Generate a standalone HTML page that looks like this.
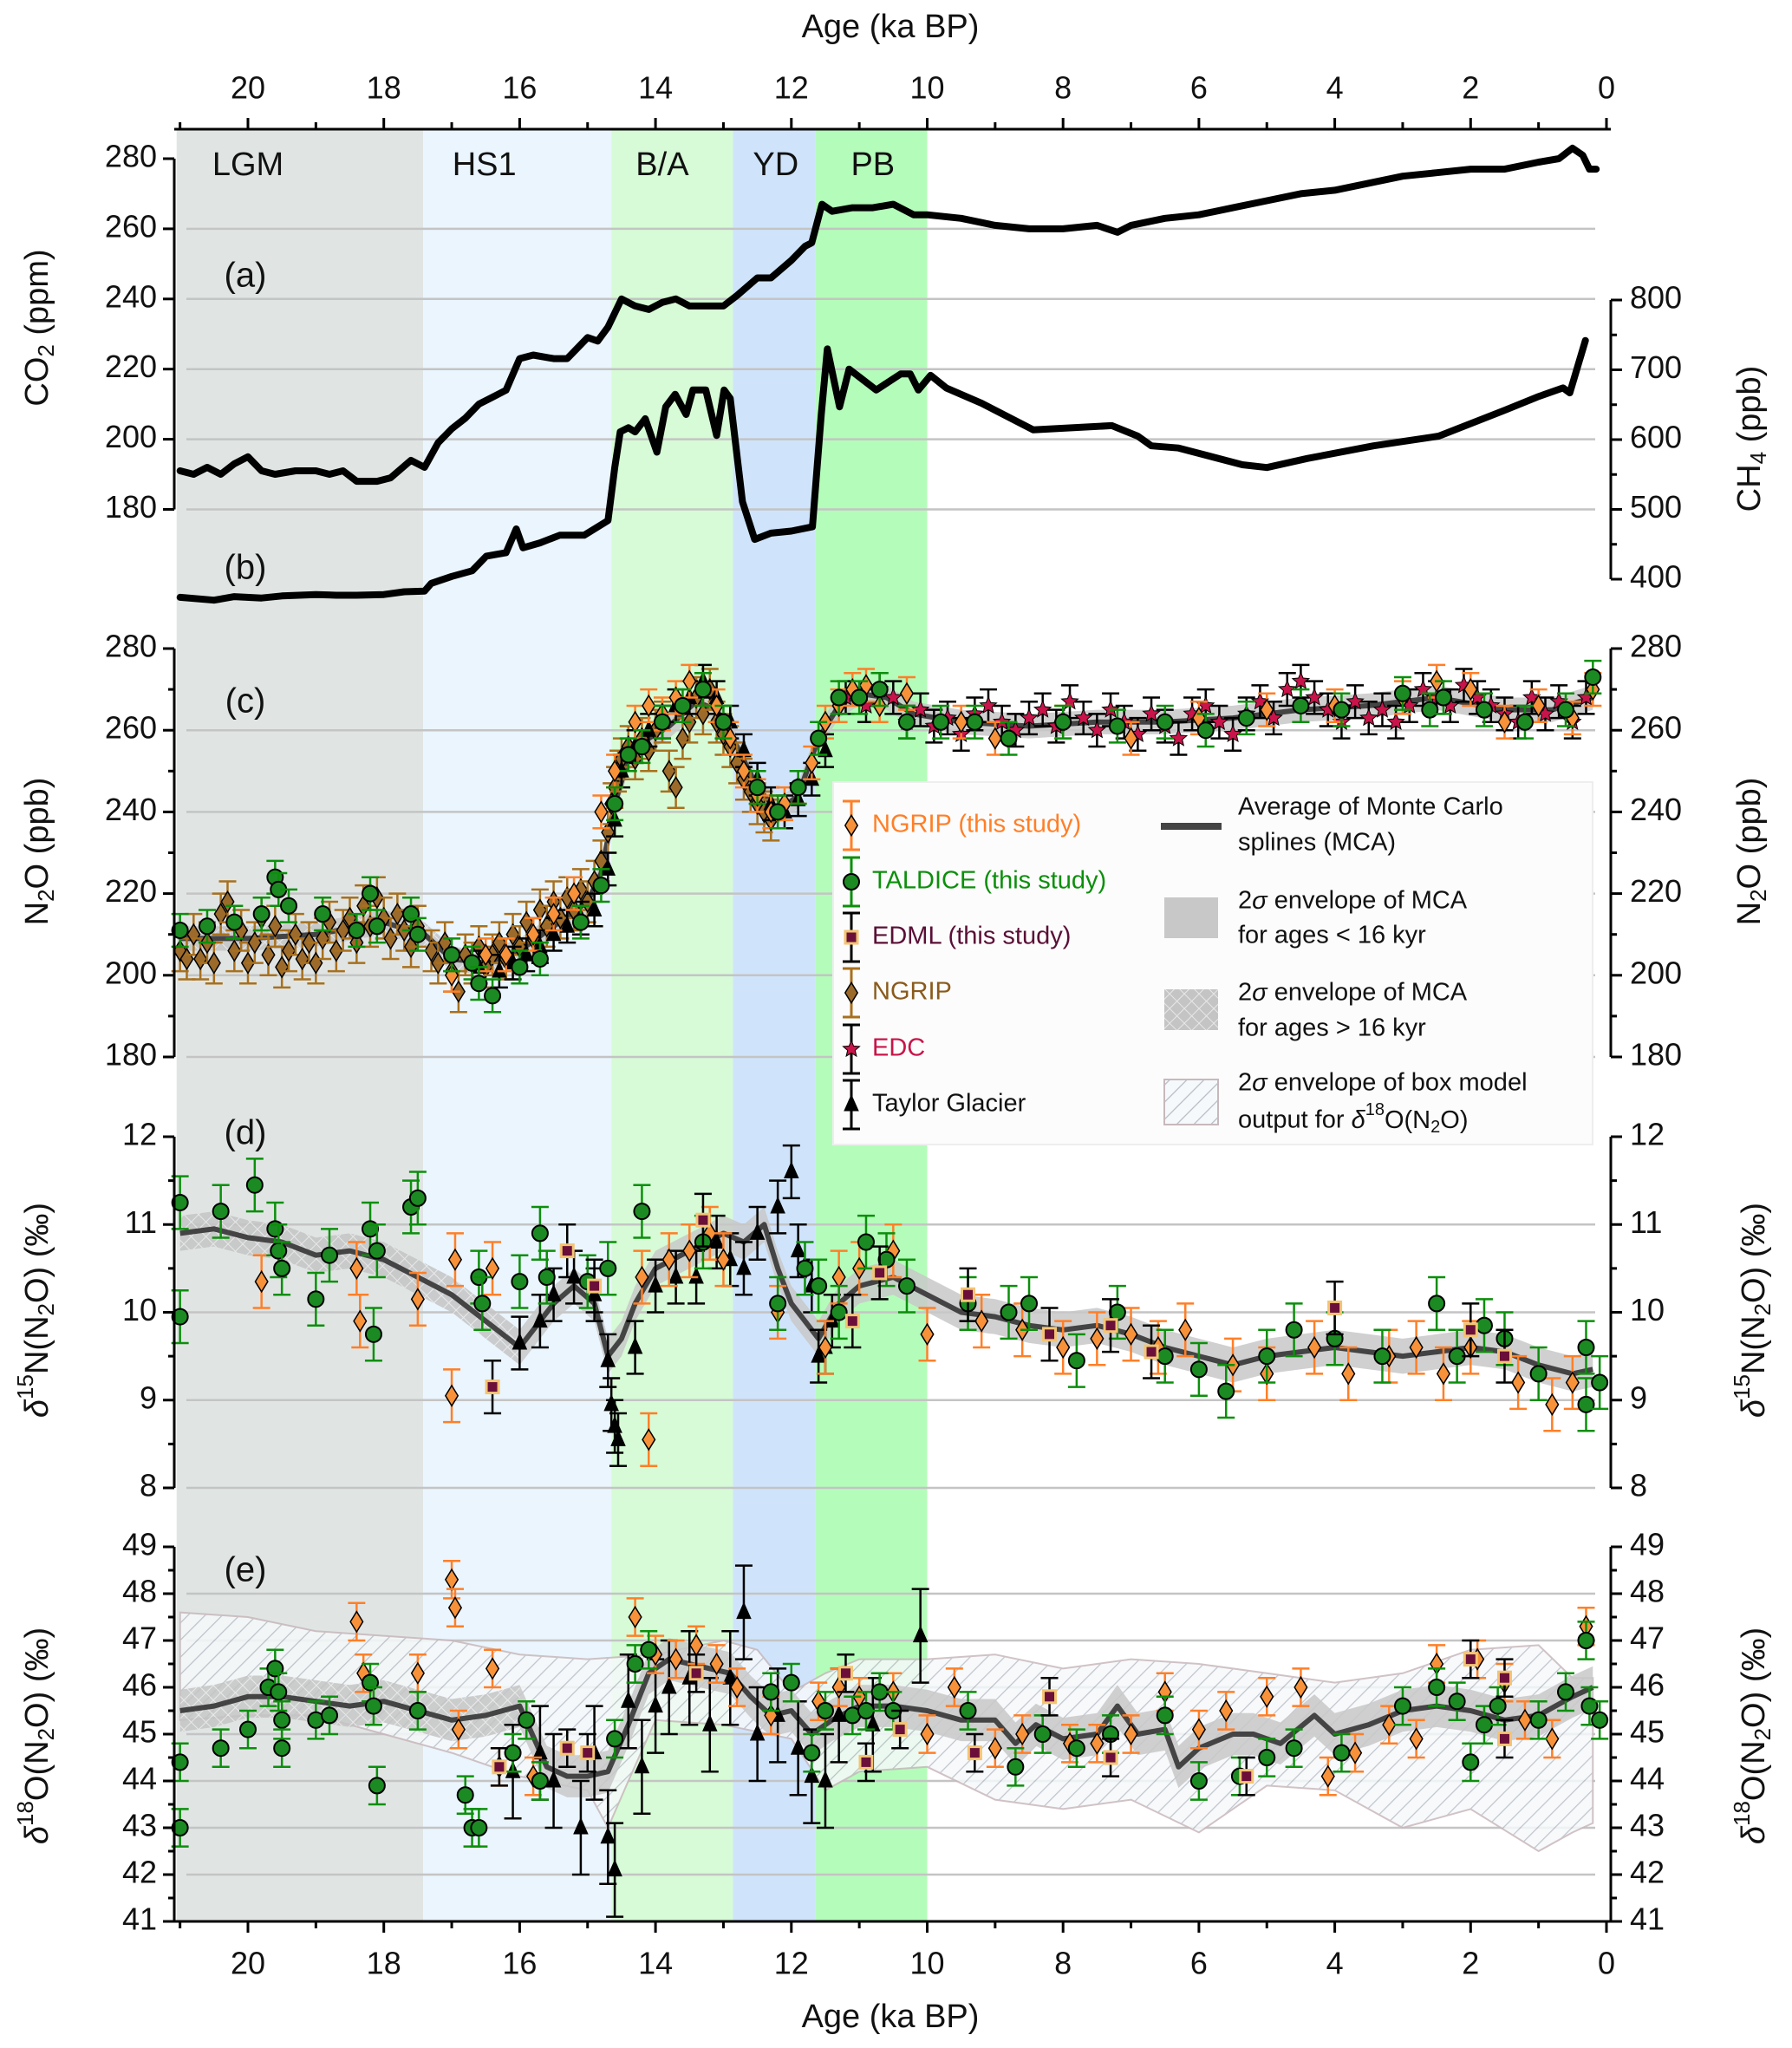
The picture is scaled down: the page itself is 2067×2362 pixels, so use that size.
<!DOCTYPE html>
<html><head><meta charset="utf-8"><style>
html,body{margin:0;padding:0;background:#fff}
svg{display:block;font-family:"Liberation Sans",sans-serif}
</style></head><body>
<svg id="chart" xmlns="http://www.w3.org/2000/svg" width="2067" height="2362" viewBox="0 0 2067 2362">
<defs>
<pattern id="hatch" patternUnits="userSpaceOnUse" width="14" height="14" patternTransform="rotate(45)">
<rect width="14" height="14" fill="#f6f9fb"/><line x1="0" y1="0" x2="0" y2="14" stroke="#b7bcc4" stroke-width="2.5"/></pattern>
<pattern id="check" patternUnits="userSpaceOnUse" width="12" height="12" patternTransform="rotate(45)">
<rect width="12" height="12" fill="#c4c4c4"/><line x1="0" y1="0" x2="0" y2="12" stroke="#e8e8e8" stroke-width="2"/><line x1="0" y1="0" x2="12" y2="0" stroke="#e8e8e8" stroke-width="2"/></pattern>
</defs>
<g id="bands"></g><g id="grid"></g><g id="envs"></g><g id="lines"></g><g id="marks"></g><g id="axes"></g><g id="legend"></g>
</svg>
<script>
// ---------- data ----------
const bandNames=["LGM","HS1","B/A","YD","PB"];
const bandStart=[21.05,17.42,14.65,12.86,11.65];
const bandEnd=[17.42,14.65,12.86,11.65,10.0];
const bandLabelAge=[20.0,16.52,13.9,12.23,10.8];
const bandColors=["#e0e5e4","#eaf5fd","#d6fbd6","#cfe4fb","#b4fcba"];

const co2Age=[21.0,20.8,20.6,20.4,20.2,20.0,19.8,19.6,19.3,19.0,18.8,18.6,18.4,18.1,17.9,17.6,17.4,17.2,17.0,16.8,16.6,16.4,16.2,16.0,15.8,15.5,15.3,15.0,14.85,14.7,14.5,14.3,14.1,13.9,13.7,13.5,13.2,13.0,12.8,12.5,12.3,12.0,11.8,11.7,11.55,11.4,11.1,10.8,10.5,10.2,10.0,9.5,9.0,8.5,8.0,7.5,7.2,7.0,6.5,6.0,5.5,5.0,4.5,4.0,3.5,3.0,2.5,2.0,1.5,1.0,0.7,0.5,0.35,0.25,0.15];
const co2Val=[191,190,192,190,193,195,191,190,191,191,190,191,188,188,189,194,192,199,203,206,210,212,214,223,224,223,223,229,228,232,240,238,237,239,240,238,238,238,241,246,246,251,255,256,267,265,266,266,267,264,264,263,261,260,260,261,259,261,263,264,266,268,270,271,273,275,276,277,277,279,280,283,281,277,277];

const ch4Age=[21.0,20.5,20.2,19.8,19.5,19.0,18.7,18.4,18.0,17.7,17.4,17.3,17.0,16.7,16.49,16.2,16.05,15.95,15.7,15.41,15.05,14.7,14.6,14.52,14.4,14.3,14.15,13.98,13.85,13.71,13.55,13.45,13.26,13.1,12.99,12.9,12.72,12.54,12.3,12.0,11.69,11.56,11.47,11.29,11.15,10.75,10.39,10.25,10.13,9.95,9.72,9.2,8.44,7.28,6.9,6.7,6.3,5.36,5.0,4.4,3.43,2.47,1.5,1.02,0.64,0.54,0.31];
const ch4Val=[374,370,375,373,376,378,377,377,378,382,383,394,404,412,433,438,472,445,452,463,463,484,560,611,617,611,630,582,647,665,636,671,671,606,671,659,511,457,466,469,475,636,730,647,701,671,694,694,671,692,674,652,614,620,605,591,588,564,560,573,591,605,642,661,674,667,742];

const ngripOldN2O=[[21.0,206],[20.9,204],[20.8,210],[20.7,204],[20.6,208],[20.5,203],[20.4,215],[20.3,218],[20.2,206],[20.1,211],[20.0,203],[19.9,208],[19.8,214],[19.7,205],[19.6,212],[19.5,202],[19.4,206],[19.3,210],[19.2,204],[19.1,208],[19.0,203],[18.9,209],[18.8,213],[18.7,206],[18.6,211],[18.5,214],[18.4,208],[18.3,217],[18.2,212],[18.1,219],[18.0,214],[17.9,209],[17.8,215],[17.7,211],[17.6,207],[17.5,212],[17.3,206],[17.2,203],[17.1,208],[17.0,201],[16.9,196],[16.8,205],[16.7,203],[16.6,207],[16.5,202],[16.4,205],[16.3,208],[16.2,204],[16.1,210],[16.0,207],[15.9,213],[15.8,209],[15.7,216],[15.6,212],[15.5,218],[15.4,214],[15.3,219],[15.2,216],[15.1,221],[15.0,218],[14.9,223],[14.8,228],[14.7,235],[14.65,242],[14.6,246],[14.55,250],[14.5,253],[14.4,256],[14.3,253],[14.2,258],[14.1,255],[14.0,260],[13.9,262],[13.8,250],[13.7,246],[13.6,258],[13.5,262],[13.4,268],[13.3,264],[13.2,270],[13.1,262],[13.0,259],[12.9,256],[12.8,252],[12.7,248],[12.6,245],[12.5,242],[12.4,240],[12.3,238]];
const ngripNewN2O=[[17.0,200],[16.5,205],[16.2,205],[15.8,210],[15.5,215],[15.2,220],[14.8,240],[14.6,250],[14.3,262],[14.1,266],[13.9,264],[13.7,268],[13.5,272],[13.3,270],[13.1,266],[12.9,258],[12.7,250],[12.5,244],[12.3,240],[12.1,242],[11.9,246],[11.7,252],[11.5,262],[11.3,266],[11.1,270],[10.9,271],[10.7,266],[10.3,269],[9.5,262],[9.0,258],[8.0,262],[7.0,258],[6.0,263],[5.0,265],[4.0,266],[3.0,268],[2.5,272],[2.0,270],[1.5,262],[1.0,266],[0.5,263],[0.2,270]];
const edcN2O=[[11.2,268],[10.9,266],[10.7,270],[10.5,268],[10.3,262],[10.1,265],[9.9,261],[9.7,263],[9.5,259],[9.3,264],[9.1,266],[8.9,262],[8.7,260],[8.5,263],[8.3,265],[8.1,261],[7.9,267],[7.7,263],[7.5,260],[7.3,265],[7.1,262],[6.9,259],[6.7,264],[6.5,261],[6.3,258],[6.1,264],[5.9,266],[5.7,262],[5.5,259],[5.3,264],[5.1,267],[4.9,263],[4.7,270],[4.5,272],[4.3,268],[4.1,265],[3.9,262],[3.7,267],[3.5,263],[3.3,265],[3.1,262],[2.9,266],[2.7,270],[2.5,268],[2.3,266],[2.1,271],[1.9,268],[1.7,266],[1.5,264],[1.3,262],[1.1,268],[0.9,264],[0.7,267],[0.5,262],[0.3,268]];
const taldiceN2O=[[21.0,211],[20.6,212],[20.2,213],[19.8,215],[19.6,224],[19.55,221],[19.4,217],[18.9,215],[18.4,211],[18.2,220],[18.1,212],[17.6,215],[17.5,210],[17.0,205],[16.7,203],[16.6,198],[16.4,195],[16.0,202],[15.7,204],[15.1,213],[14.8,222],[14.6,242],[14.4,254],[14.2,256],[13.9,262],[13.6,266],[13.3,270],[13.0,262],[12.5,246],[12.2,240],[11.9,246],[11.6,258],[11.3,268],[11.0,268],[10.7,270],[10.3,262],[9.8,262],[9.3,262],[8.8,258],[8.0,262],[7.2,261],[6.5,262],[5.9,260],[5.3,263],[4.5,266],[3.9,265],[3.0,269],[2.6,265],[2.4,268],[1.8,265],[1.2,262],[0.6,265],[0.2,273]];
const taylorN2O=[[16.6,202],[16.3,201],[16.1,203],[15.9,205],[15.7,207],[15.5,210],[15.3,212],[15.1,214],[14.9,216],[14.7,226],[14.6,238],[14.5,250],[14.3,256],[14.1,260],[13.9,262],[13.7,266],[13.5,268],[13.3,272],[13.1,268],[12.9,262],[12.7,255],[12.5,248],[12.3,242],[12.1,240],[11.9,243],[11.7,248],[11.5,255]];
const mcaN2O=[[21.0,209],[20.0,209],[19.0,210],[18.0,213],[17.4,210],[17.0,204],[16.5,203],[16.0,206],[15.5,212],[15.0,218],[14.8,225],[14.6,242],[14.4,253],[14.1,258],[13.8,261],[13.4,267],[13.1,265],[12.8,256],[12.5,246],[12.2,240],[11.9,244],[11.6,258],[11.3,266],[11.0,269],[10.6,268],[10.2,264],[9.5,262],[8.5,261],[7.5,262],[6.5,262],[5.5,263],[4.5,265],[3.5,266],[2.5,268],[1.5,265],[0.8,265],[0.2,268]];

const taldiceD15=[[21.0,11.25],[21.0,9.95],[20.4,11.15],[19.9,11.45],[19.6,10.95],[19.55,10.7],[19.5,10.5],[19.0,10.15],[18.8,10.65],[18.2,10.95],[18.15,9.75],[18.1,10.7],[17.6,11.2],[17.5,11.3],[16.6,10.4],[16.55,10.1],[16.0,10.35],[15.7,10.9],[15.6,10.4],[15.0,10.35],[14.7,10.5],[14.2,11.15],[13.3,10.8],[12.2,10.1],[11.8,10.5],[11.6,10.3],[11.3,10.0],[10.9,10.8],[10.6,10.6],[10.3,10.3],[9.4,10.1],[8.8,10.0],[8.5,10.1],[7.8,9.45],[7.2,10.0],[6.5,9.5],[6.0,9.35],[5.6,9.1],[5.0,9.5],[4.6,9.8],[4.0,9.7],[3.3,9.5],[2.5,10.1],[2.2,9.5],[1.8,9.85],[1.5,9.7],[1.0,9.3],[0.3,9.6],[0.3,8.95],[0.1,9.2]];
const ngripD15=[[19.8,10.35],[18.4,10.5],[18.35,9.9],[17.5,10.15],[17.0,9.05],[16.95,10.6],[16.4,10.5],[14.2,10.4],[14.1,8.55],[13.8,10.6],[13.5,10.7],[13.2,10.9],[13.0,10.6],[12.2,10.0],[11.5,9.6],[11.3,10.4],[11.0,10.5],[10.5,10.7],[10.0,9.75],[9.2,9.9],[8.6,9.8],[8.0,9.6],[7.5,9.7],[7.0,9.75],[6.6,9.6],[6.2,9.8],[5.5,9.4],[5.0,9.3],[4.3,9.6],[3.8,9.3],[3.2,9.5],[2.8,9.6],[2.4,9.3],[2.0,9.6],[1.3,9.2],[0.8,8.95],[0.5,9.2]];
const edmlD15=[[16.4,9.15],[15.3,10.7],[14.9,10.3],[13.3,11.05],[11.1,9.9],[10.7,10.45],[9.4,10.2],[8.2,9.75],[7.3,9.85],[6.7,9.55],[4.0,10.05],[2.0,9.8],[1.5,9.5]];
const taylorD15=[[16.0,9.65],[15.7,9.9],[15.5,10.2],[15.2,10.4],[14.9,10.2],[14.7,9.45],[14.65,8.95],[14.6,8.7],[14.55,8.55],[14.3,9.6],[14.0,10.3],[13.7,10.4],[13.4,10.4],[13.1,10.8],[12.9,10.6],[12.7,10.5],[12.5,10.9],[12.2,11.2],[12.0,11.6],[11.9,10.7],[11.7,10.3],[11.6,9.5],[11.5,9.6],[11.4,9.9]];
const mcaD15=[[21,10.9],[20.5,10.95],[20,10.85],[19.5,10.8],[19,10.65],[18.5,10.7],[18.0,10.6],[17.5,10.4],[17.0,10.2],[16.5,9.9],[16.0,9.6],[15.8,9.8],[15.5,10.1],[15.2,10.3],[14.9,10.1],[14.7,9.5],[14.5,9.7],[14.3,10.1],[14.0,10.5],[13.5,10.7],[13.0,10.9],[12.7,10.8],[12.4,11.0],[12.2,10.5],[12.0,10.1],[11.8,9.9],[11.6,9.7],[11.3,10.1],[11.0,10.3],[10.5,10.4],[10.0,10.2],[9.5,10.0],[9.0,9.95],[8.5,9.85],[8.0,9.8],[7.5,9.85],[7.0,9.75],[6.5,9.6],[6.0,9.5],[5.5,9.4],[5.0,9.5],[4.5,9.55],[4.0,9.6],[3.5,9.55],[3.0,9.5],[2.5,9.55],[2.0,9.6],[1.5,9.55],[1.0,9.4],[0.5,9.3],[0.2,9.35]];

const taldiceD18=[[21.0,44.4],[21.0,43.0],[20.4,44.7],[20.0,45.1],[19.7,46.0],[19.6,46.4],[19.55,45.9],[19.5,45.3],[19.5,44.7],[19.0,45.3],[18.8,45.4],[18.2,46.1],[18.15,45.6],[18.1,43.9],[17.5,45.5],[16.8,43.7],[16.7,43.0],[16.6,43.0],[16.1,44.6],[15.9,45.3],[15.7,44.0],[14.6,44.9],[14.3,46.5],[14.1,46.8],[12.3,45.9],[12.0,46.1],[11.7,44.6],[11.5,45.5],[11.1,45.4],[10.9,45.5],[10.7,45.9],[10.5,45.5],[9.4,45.5],[8.7,44.3],[8.3,45.0],[7.8,44.7],[7.3,45.0],[6.5,45.4],[6.0,44.0],[5.4,44.1],[5.0,44.5],[4.6,44.7],[3.9,44.6],[3.0,45.6],[2.5,46.0],[2.2,45.7],[2.0,44.4],[1.8,45.2],[1.6,45.6],[1.0,45.3],[0.6,45.9],[0.3,47.0],[0.25,45.6],[0.1,45.3]];
const ngripD18=[[18.4,47.4],[18.3,46.3],[17.5,46.3],[17.0,48.3],[16.95,47.7],[16.9,45.1],[16.4,46.4],[16.3,44.3],[15.8,44.1],[14.3,47.5],[14.0,46.7],[13.7,46.6],[13.4,46.9],[13.1,46.5],[12.8,46.0],[12.3,45.4],[11.6,45.7],[11.3,46.0],[11.0,45.8],[10.5,45.9],[10.0,45.0],[9.6,46.0],[9.0,44.7],[8.6,45.0],[7.9,44.8],[7.5,44.8],[7.0,45.0],[6.5,45.9],[6.0,45.1],[5.6,45.5],[5.0,45.8],[4.5,46.0],[4.1,44.1],[3.7,44.6],[3.2,45.2],[2.8,44.9],[2.5,46.5],[1.9,46.6],[1.5,46.1],[1.2,45.3],[0.8,44.9],[0.3,47.3]];
const edmlD18=[[16.3,44.3],[15.3,44.7],[15.0,44.6],[13.4,46.3],[11.2,46.3],[10.9,44.4],[10.4,45.1],[9.3,44.6],[8.2,45.8],[7.3,44.5],[5.3,44.1],[2.0,46.6],[1.5,46.2],[1.5,44.9]];
const taylorD18=[[16.1,44.2],[15.7,44.6],[15.5,44.0],[15.1,43.0],[14.9,44.6],[14.7,42.8],[14.6,42.1],[14.4,45.7],[14.2,44.3],[14.0,45.6],[13.8,46.0],[13.5,46.2],[13.2,45.2],[12.9,46.2],[12.7,47.6],[12.5,45.0],[12.2,45.4],[11.9,44.7],[11.7,44.1],[11.5,44.0],[11.3,45.4],[10.8,45.2],[10.1,47.1]];
const mcaD18=[[21,45.5],[20.5,45.6],[20,45.8],[19.5,45.8],[19,45.7],[18.5,45.6],[18,45.7],[17.5,45.5],[17,45.3],[16.5,45.4],[16.0,45.6],[15.6,44.3],[15.3,44.1],[15.0,44.1],[14.7,44.2],[14.4,45.2],[14.1,46.3],[13.8,46.6],[13.5,46.5],[13.2,46.4],[12.9,46.3],[12.6,45.8],[12.3,45.4],[12.0,45.5],[11.7,45.0],[11.4,45.3],[11.0,45.6],[10.5,45.6],[10.0,45.5],[9.5,45.3],[9.0,45.3],[8.7,44.8],[8.4,45.2],[8.0,44.9],[7.5,45.0],[7.2,45.6],[6.9,45.0],[6.5,45.1],[6.3,44.3],[6.0,44.7],[5.5,45.0],[5.2,45.0],[4.8,44.8],[4.3,45.4],[4.0,45.0],[3.5,45.2],[3.0,45.5],[2.5,45.6],[2.0,45.5],[1.5,45.3],[1.0,45.4],[0.5,45.8],[0.2,46.0]];
const boxUpper=[[21,47.6],[20,47.5],[19,47.2],[18,47.1],[17,47.0],[16,46.7],[15,46.6],[14,46.7],[13,47.0],[12.5,46.8],[12,45.9],[11.5,46.3],[11,46.6],[10,46.6],[9,46.7],[8,46.4],[7,46.6],[6,46.5],[5,46.3],[4,46.1],[3,46.3],[2,46.8],[1,46.9],[0.5,46.2],[0.2,46.2]];
const boxLower=[[21,45.3],[20,45.4],[19,45.4],[18,45.0],[17,44.6],[16,44.1],[15,43.8],[14.7,43.0],[14.4,44.0],[14,45.3],[13,45.2],[12,44.9],[11.5,43.8],[11,44.2],[10,44.3],[9,43.6],[8,43.4],[7,43.6],[6,42.9],[5,43.9],[4,43.8],[3,43.0],[2,43.4],[1,42.5],[0.5,42.9],[0.2,43.1]];

const ageTicks=[20,18,16,14,12,10,8,6,4,2,0];
const co2Ticks=[280,260,240,220,200,180];
const ch4Ticks=[800,700,600,500,400];
const n2oTicks=[280,260,240,220,200,180];
const d15Ticks=[12,11,10,9,8];
const d18Ticks=[49,48,47,46,45,44,43,42,41];

// ---------- scales ----------
const X=a=>1853-a*78.35;
const Yco2=v=>183+(280-v)*4.045;
const Ych4=v=>346+(800-v)*0.805;
const Yn2o=v=>748+(280-v)*4.71;
const Yd15=v=>1311+(12-v)*101.25;
const Yd18=v=>1784+(49-v)*54;
const L=201,R=1858,PL=205,TOP=149,BOT=2216;

const NS="http://www.w3.org/2000/svg";
function mk(parent,tag,attrs,text){const e=document.createElementNS(NS,tag);for(const k in attrs)e.setAttribute(k,attrs[k]);if(text!==undefined)e.textContent=text;document.getElementById(parent).appendChild(e);return e;}

bandNames.forEach((n,i)=>{
 const r=mk('bands','rect',{x:X(bandStart[i]),y:TOP,width:X(bandEnd[i])-X(bandStart[i]),height:BOT-TOP,fill:bandColors[i]});
 
 
 const t=mk('bands','text',{x:X(bandLabelAge[i]),y:202,'font-size':38,'text-anchor':'middle',fill:'#111'},n);
 
 
});

function grid(ticks,sc,skipFirst){ticks.forEach((t,i)=>{if(skipFirst&&i===0)return;const g=mk('grid','line',{x1:215,x2:1840,y1:sc(t),y2:sc(t),stroke:'#c4c4c4','stroke-width':2.5});});}
grid(co2Ticks,Yco2,true);grid(n2oTicks,Yn2o,true);grid(d15Ticks,Yd15,true);grid(d18Ticks,Yd18,true);

function pathOf(pts,sy){return pts.map((p,i)=>(i?'L':'M')+X(p[0]).toFixed(1)+' '+sy(p[1]).toFixed(1)).join(' ');}
function band(pts,sy,w){const up=pts.map(p=>[p[0],p[1]+w]),lo=pts.map(p=>[p[0],p[1]-w]).reverse();return pathOf(up,sy)+' '+lo.map(p=>'L'+X(p[0]).toFixed(1)+' '+sy(p[1]).toFixed(1)).join(' ')+' Z';}

{const d=pathOf(boxUpper,Yd18)+' '+boxLower.slice().reverse().map(p=>'L'+X(p[0]).toFixed(1)+' '+Yd18(p[1]).toFixed(1)).join(' ')+' Z';
 const e=mk('envs','path',{d:d,fill:'url(#hatch)',stroke:'#c8b8bc','stroke-width':2,opacity:0.85});
 
 }
[[mcaN2O,Yn2o,3],[mcaD15,Yd15,0.2],[mcaD18,Yd18,0.45]].forEach(([pts,sy,w],k)=>{
 const young=pts.filter(p=>p[0]<=16.05),old=pts.filter(p=>p[0]>=15.95);
 const e1=mk('envs','path',{d:band(young,sy,w),fill:'#c8c8c8',opacity:0.85});
 
 
 const e2=mk('envs','path',{d:band(old,sy,w),fill:'url(#check)',opacity:0.85});
 
 
});

{const co2Pts=co2Age.map((a,i)=>[a,co2Val[i]]);
 const l=mk('lines','path',{d:pathOf(co2Pts,Yco2),fill:'none',stroke:'#000','stroke-width':8,'stroke-linejoin':'round','stroke-linecap':'round'});
 
 
 const ch4Pts=ch4Age.map((a,i)=>[a,ch4Val[i]]);
 const m=mk('lines','path',{d:pathOf(ch4Pts,Ych4),fill:'none',stroke:'#000','stroke-width':8,'stroke-linejoin':'round','stroke-linecap':'round'});
 
 }
[[mcaN2O,Yn2o],[mcaD15,Yd15],[mcaD18,Yd18]].forEach(([pts,sy])=>{
 const l=mk('lines','path',{d:pathOf(pts,sy),fill:'none',stroke:'#444','stroke-width':6,'stroke-linejoin':'round'});
 
 
});

function marker(g,type,x,y){
 const s=9;
 if(type==='diamond') return mk(g,'path',{d:`M${x} ${y-s*1.3}L${x+s*0.8} ${y}L${x} ${y+s*1.3}L${x-s*0.8} ${y}Z`,stroke:'#000','stroke-width':1.5});
 if(type==='circle') return mk(g,'circle',{cx:x,cy:y,r:s,stroke:'#000','stroke-width':2});
 if(type==='square') return mk(g,'rect',{x:x-7,y:y-7,width:14,height:14,stroke:'#f3c473','stroke-width':3});
 if(type==='star'){let d='';for(let i=0;i<10;i++){const r=i%2?4.5:10,a=Math.PI/5*i-Math.PI/2;d+=(i?'L':'M')+(x+r*Math.cos(a)).toFixed(1)+' '+(y+r*Math.sin(a)).toFixed(1);}return mk(g,'path',{d:d+'Z',stroke:'#000','stroke-width':1});}
 return mk(g,'path',{d:`M${x} ${y-11}L${x+8} ${y+7}L${x-8} ${y+7}Z`,stroke:'#000','stroke-width':1});
}
function series(name,data,sy,err,type,fill,ecol){
 data.forEach(p=>{
  const x=X(p[0]),y=sy(p[1]),y1=sy(p[1]+err),y2=sy(p[1]-err);
  const eb=mk('marks','path',{d:`M${x} ${y1}V${y2}M${x-10} ${y1}H${x+10}M${x-10} ${y2}H${x+10}`,stroke:ecol,'stroke-width':2.5,fill:'none'});
  
  
  const m=marker('marks',type,x,y);m.setAttribute('fill',fill);
  
  
 });
}
const OR='#f7923a',ORE='#ff7f27',GR='#1c8a22',GRE='#0c8f0c',BR='#9c6a2a',BRE='#a8701e',ED='#6b0f3a',RD='#c8144a';
series('ngrip-old-n2o',ngripOldN2O,Yn2o,5,'diamond',BR,BRE);
series('taylor-n2o',taylorN2O,Yn2o,4,'triangle','#000','#000');
series('edc-n2o',edcN2O,Yn2o,4,'star',RD,'#000');
series('ngrip-new-n2o',ngripNewN2O,Yn2o,4,'diamond',OR,ORE);
series('taldice-n2o',taldiceN2O,Yn2o,4,'circle',GR,GRE);
series('taylor-d15n',taylorD15,Yd15,0.3,'triangle','#000','#000');
series('ngrip-d15n',ngripD15,Yd15,0.3,'diamond',OR,ORE);
series('taldice-d15n',taldiceD15,Yd15,0.3,'circle',GR,GRE);
series('edml-d15n',edmlD15,Yd15,0.3,'square',ED,'#000');
series('taylor-d18o',taylorD18,Yd18,1.0,'triangle','#000','#000');
series('ngrip-d18o',ngripD18,Yd18,0.4,'diamond',OR,ORE);
series('taldice-d18o',taldiceD18,Yd18,0.4,'circle',GR,GRE);
series('edml-d18o',edmlD18,Yd18,0.4,'square',ED,'#000');

function line(g,x1,y1,x2,y2,name){const l=mk(g,'line',{x1,y1,x2,y2,stroke:'#000','stroke-width':3});return l;}
function txt(x,y,s,anchor,size,name,extra){const t=mk('axes','text',Object.assign({x,y,'font-size':size,'text-anchor':anchor,'dominant-baseline':'middle',fill:'#111'},extra||{}),s);return t;}
function vaxis(side,x,ticks,sc,minor,name){
 const y0=sc(ticks[0]),y1=sc(ticks[ticks.length-1]);
 line('axes',x,y0,x,y1,name+'-line');
 const dir=side==='L'?-1:1;
 ticks.forEach((t,i)=>{const y=sc(t);line('axes',x,y,x+dir*13,y,name+'-tick');
  txt(side==='L'?x-20:x+22,y,String(t),side==='L'?'end':'start',36,name+'-tick-label');
  if(minor&&i<ticks.length-1){const ym=(y+sc(ticks[i+1]))/2;line('axes',x,ym,x+dir*7,ym,name+'-minor-tick');}
 });
}
vaxis('L',L,co2Ticks,Yco2,false,'co2-axis');
vaxis('R',R,ch4Ticks,Ych4,true,'ch4-axis');
vaxis('L',L,n2oTicks,Yn2o,true,'n2o-left-axis');
vaxis('R',R,n2oTicks,Yn2o,true,'n2o-right-axis');
vaxis('L',L,d15Ticks,Yd15,true,'d15n-left-axis');
vaxis('R',R,d15Ticks,Yd15,true,'d15n-right-axis');
vaxis('L',L,d18Ticks,Yd18,true,'d18o-left-axis');
vaxis('R',R,d18Ticks,Yd18,true,'d18o-right-axis');
line('axes',L,TOP,R,TOP,'top-x-axis-line');
line('axes',L,BOT,R,BOT,'bottom-x-axis-line');
ageTicks.forEach(a=>{const x=X(a);
 line('axes',x,TOP,x,TOP-13,'top-x-tick');line('axes',x,BOT,x,BOT+13,'bottom-x-tick');
 txt(x,104,String(a),'middle',36,'top-x-tick-label');txt(x,2267,String(a),'middle',36,'bottom-x-tick-label');
 if(a<20){const xm=X(a+1);line('axes',xm,TOP,xm,TOP-8,'top-x-minor-tick');line('axes',xm,BOT,xm,BOT+8,'bottom-x-minor-tick');}
});
{const xm=X(21);line('axes',xm,TOP,xm,TOP-8,'top-x-minor-tick');line('axes',xm,BOT,xm,BOT+8,'bottom-x-minor-tick');}
txt(1027,33,'Age (ka BP)','middle',38,'top-x-axis-title');
txt(1027,2328,'Age (ka BP)','middle',38,'bottom-x-axis-title');
[['(a)',320],['(b)',657],['(c)',811],['(d)',1309],['(e)',1813]].forEach(([s,y])=>txt(283,y,s,'middle',40,'panel-label'));
function rtitle(x,y,html,name,rot){const t=mk('axes','text',{x:0,y:0,'font-size':38,'text-anchor':'middle','dominant-baseline':'middle',fill:'#111',transform:`translate(${x},${y}) rotate(${rot})`});t.innerHTML=html;}
const sub=s=>`<tspan dy="10" font-size="26">${s}</tspan><tspan dy="-10">`;
const sup=s=>`<tspan dy="-14" font-size="26">${s}</tspan><tspan dy="14">`;
rtitle(45,378,`CO${sub('2')} (ppm)</tspan>`,'co2-axis-title',-90);
rtitle(2020,506,`CH${sub('4')} (ppb)</tspan>`,'ch4-axis-title',-90);
rtitle(45,982,`N${sub('2')}O (ppb)</tspan>`,'n2o-left-axis-title',-90);
rtitle(2020,982,`N${sub('2')}O (ppb)</tspan>`,'n2o-right-axis-title',-90);
rtitle(45,1511,`<tspan font-style="italic">δ</tspan>${sup('15')}N(N${sub('2')}O)  (‰)</tspan></tspan>`,'d15n-left-axis-title',-90);
rtitle(2025,1511,`<tspan font-style="italic">δ</tspan>${sup('15')}N(N${sub('2')}O)  (‰)</tspan></tspan>`,'d15n-right-axis-title',-90);
rtitle(45,2002,`<tspan font-style="italic">δ</tspan>${sup('18')}O(N${sub('2')}O)  (‰)</tspan></tspan>`,'d18o-left-axis-title',-90);
rtitle(2025,2002,`<tspan font-style="italic">δ</tspan>${sup('18')}O(N${sub('2')}O)  (‰)</tspan></tspan>`,'d18o-right-axis-title',-90);

{const b=mk('legend','rect',{x:961,y:902,width:876,height:418,fill:'#fcfcfc',stroke:'#eeeeee','stroke-width':2});
 
 const items=[['NGRIP (this study)','diamond',OR,ORE,ORE,952],['TALDICE (this study)','circle',GR,GRE,GRE,1017],['EDML (this study)','square',ED,'#000','#5a0f36',1081],['NGRIP','diamond',BR,BRE,'#8a5a1c',1145],['EDC','star',RD,'#000',RD,1210],['Taylor Glacier','triangle','#000','#000','#111',1274]];
 items.forEach(([lab,type,fill,ecol,tcol,y])=>{
  const eb=mk('legend','path',{d:`M982 ${y-28}V${y+28}M972 ${y-28}H992M972 ${y+28}H992`,stroke:ecol,'stroke-width':3,fill:'none'});
  
  const m=marker('legend',type,982,y);m.setAttribute('fill',fill);
  
  const t=mk('legend','text',{x:1006,y:y,'font-size':29,'dominant-baseline':'middle',fill:tcol},lab);
  
 });
 const ln=mk('legend','line',{x1:1339,x2:1409,y1:953,y2:953,stroke:'#444','stroke-width':8});
 
 const s1=mk('legend','rect',{x:1343,y:1035,width:62,height:47,fill:'#c8c8c8'});
 
 const s2=mk('legend','rect',{x:1343,y:1141,width:62,height:47,fill:'url(#check)'});
 
 const s3=mk('legend','rect',{x:1343,y:1245,width:62,height:52,fill:'url(#hatch)',stroke:'#c8b8bc','stroke-width':2});
 
 const rt=[['Average of Monte Carlo',932],['splines (MCA)',973],['2<tspan font-style="italic">σ</tspan> envelope of MCA',1040],['for ages &lt; 16 kyr',1080],['2<tspan font-style="italic">σ</tspan> envelope of MCA',1146],['for ages &gt; 16 kyr',1187],['2<tspan font-style="italic">σ</tspan> envelope of box model',1250],['output for <tspan font-style="italic">δ</tspan><tspan dy="-12" font-size="20">18</tspan><tspan dy="12">O(N</tspan><tspan dy="8" font-size="20">2</tspan><tspan dy="-8">O)</tspan>',1293]];
 rt.forEach(([h,y])=>{const t=mk('legend','text',{x:1428,y:y,'font-size':29,'dominant-baseline':'middle',fill:'#111'});t.innerHTML=h;
  });
}
</script>
</body></html>
